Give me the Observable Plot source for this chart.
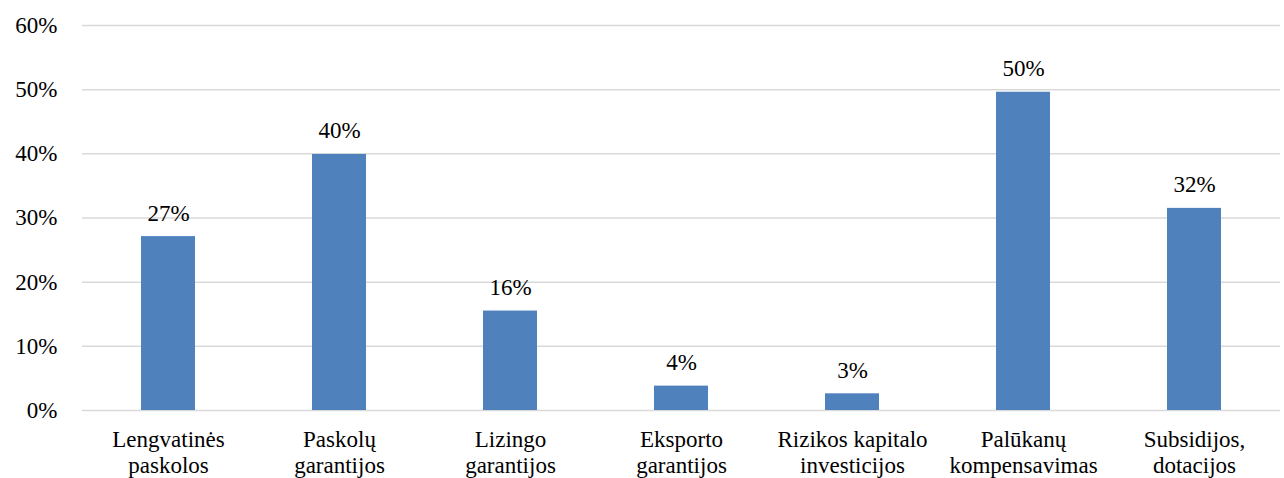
<!DOCTYPE html>
<html>
<head>
<meta charset="utf-8">
<script src="https://cdn.jsdelivr.net/npm/d3@7"></script>
<script src="https://cdn.jsdelivr.net/npm/@observablehq/plot@0.6"></script>
<style>
  html, body { margin: 0; padding: 0; background: #fff; font-family: "Liberation Serif", "Times New Roman", serif; }
</style>
</head>
<body>
<div id="chart"></div>
<script>
const categories = [
  "Lengvatinės\npaskolos",
  "Paskolų\ngarantijos",
  "Lizingo\ngarantijos",
  "Eksporto\ngarantijos",
  "Rizikos kapitalo\ninvesticijos",
  "Palūkanų\nkompensavimas",
  "Subsidijos,\ndotacijos"
];
const values = [27.1, 39.9, 15.5, 3.8, 2.6, 49.6, 31.5];
const valueLabels = ["27%", "40%", "16%", "4%", "3%", "50%", "32%"];
const yTicks = [0, 10, 20, 30, 40, 50, 60];

const data = categories.map((c, i) => ({cat: c, value: values[i], label: valueLabels[i]}));
const FONT = "Times New Roman, Liberation Serif, serif";

const chart = Plot.plot({
  width: 1284,
  height: 478,
  marginTop: 25,
  marginBottom: 68,
  marginLeft: 82,
  marginRight: 4,
  style: {fontFamily: FONT, fontSize: "23px", color: "#000", background: "#fff"},
  x: {domain: categories, paddingInner: 0.685, paddingOuter: 0.3425, label: null},
  y: {domain: [0, 60], label: null},
  marks: [
    Plot.gridY(yTicks, {stroke: "#d9d9d9", strokeOpacity: 1, strokeWidth: 1.5}),
    Plot.barY(data, {x: "cat", y: "value", fill: "#4f81bd"}),
    Plot.text(data, {x: "cat", y: "value", text: "label", dy: -16, lineAnchor: "bottom", fill: "#000", fontFamily: FONT, fontSize: 23}),
    Plot.axisY(yTicks, {tickSize: 0, tickPadding: 25, tickFormat: d => d + "%", label: null, fontFamily: FONT, fontSize: 23}),
    Plot.axisX({tickSize: 0, tickPadding: 18, lineHeight: 1.12, label: null, fontFamily: FONT, fontSize: 23})
  ]
});
chart.querySelectorAll("text").forEach(t => { t.style.fontFamily = FONT; });
document.getElementById("chart").appendChild(chart);
</script>
</body>
</html>
